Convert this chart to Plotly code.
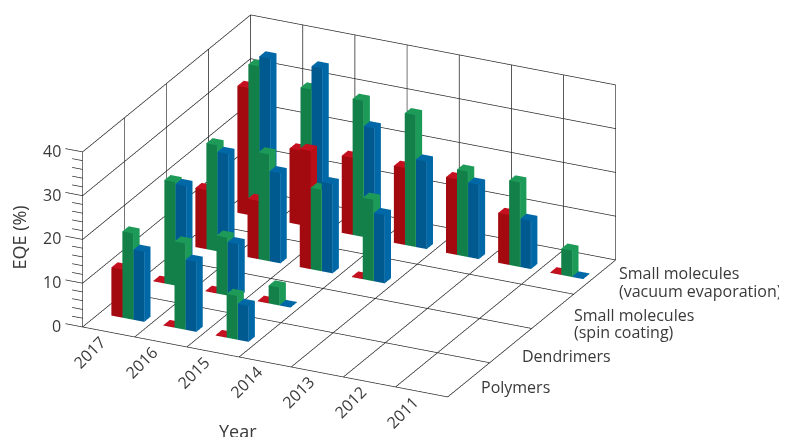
import plotly.graph_objects as go

years = [2017, 2016, 2015, 2014, 2013, 2012, 2011]
materials = [["Polymers"], ["Dendrimers"], ["Small molecules", "(spin coating)"], ["Small molecules", "(vacuum evaporation)"]]
eqe_ticks = [0, 10, 20, 30, 40]
minor_ticks = [v for v in range(0, 42, 2)]

polymers_red = [11, 0, 0, None, None, None, None]
polymers_green = [19.7, 19.7, 10, None, None, None, None]
polymers_blue = [16, 16, 8.2, None, None, None, None]
dendrimers_red = [0, 0, 0, None, None, None, None]
dendrimers_green = [23.6, 13.2, 4.1, None, None, None, None]
dendrimers_blue = [23.2, 12.2, 0, None, None, None, None]
spin_red = [13.5, 13.3, 27, 0, None, None, None]
spin_green = [24.2, 24.4, 18.6, 18.6, None, None, None]
spin_blue = [22.7, 20.6, 20.4, 15.6, None, None, None]
vacuum_red = [29, 17, 17.6, 17.6, 17.3, 11.4, 0]
vacuum_green = [34.4, 31.4, 31.1, 30.1, 19.5, 19.3, 6]
vacuum_blue = [36.7, 36.7, 25.3, 20, 17, 11, 0]

BW, BD, A0, B0 = 0.21, 0.15, 0.23, 0.40
FLAT = 0.12

def mesh(rows, slot, front, side, top):
    xs, ys, zs, ii, jj, kk, fc = [], [], [], [], [], [], []
    for r, row in enumerate(rows):
        for c, v in enumerate(row):
            if v is None:
                continue
            h = max(v, FLAT)
            x0 = c + A0 + slot * BW
            x1 = x0 + BW
            y0 = r + B0
            y1 = y0 + BD
            n = len(xs)
            xs += [x0, x1, x1, x0, x0, x1, x1, x0]
            ys += [y0, y0, y1, y1, y0, y0, y1, y1]
            zs += [0, 0, 0, 0, h, h, h, h]
            for tri, col in [((0, 1, 5), front), ((0, 5, 4), front),
                             ((1, 2, 6), side), ((1, 6, 5), side),
                             ((4, 5, 6), top), ((4, 6, 7), top)]:
                ii.append(n + tri[0]); jj.append(n + tri[1]); kk.append(n + tri[2]); fc.append(col)
    return go.Mesh3d(x=xs, y=ys, z=zs, i=ii, j=jj, k=kk, facecolor=fc, flatshading=True,
                     lighting=dict(ambient=1, diffuse=0, specular=0, roughness=1, fresnel=0),
                     hoverinfo="skip", showscale=False)

def edges(rows, slot, colour):
    ex, ey, ez = [], [], []
    for r, row in enumerate(rows):
        for c, v in enumerate(row):
            if not v:
                continue
            x1 = c + A0 + (slot + 1) * BW + 0.002
            y0 = r + B0 - 0.002
            ex += [x1, x1, None]; ey += [y0, y0, None]; ez += [0, v, None]
    return go.Scatter3d(x=ex, y=ey, z=ez, mode="lines", line=dict(color=colour, width=1), hoverinfo="skip", showlegend=False)

red_rows = [polymers_red, dendrimers_red, spin_red, vacuum_red]
green_rows = [polymers_green, dendrimers_green, spin_green, vacuum_green]
blue_rows = [polymers_blue, dendrimers_blue, spin_blue, vacuum_blue]

fig = go.Figure()
fig.add_trace(mesh(red_rows, 0, "#A30A10", "#B91018", "#C5101F"))
fig.add_trace(mesh(green_rows, 1, "#128048", "#1C9A58", "#1E9A58"))
fig.add_trace(mesh(blue_rows, 2, "#00598F", "#0068A6", "#0068A6"))
fig.add_trace(edges(green_rows, 1, "#3FA873"))
fig.add_trace(edges(blue_rows, 2, "#3F8FBF"))

NX, NY, ZM = len(years), len(materials), eqe_ticks[-1]
lx, ly, lz = [], [], []
def seg(a, b):
    lx.extend([a[0], b[0], None]); ly.extend([a[1], b[1], None]); lz.extend([a[2], b[2], None])
for i in range(NX + 1):
    seg((i, 0, 0), (i, NY, 0))
    seg((i, NY, 0), (i, NY, ZM))
for j in range(NY + 1):
    seg((0, j, 0), (NX, j, 0))
    seg((0, j, 0), (0, j, ZM))
for z in eqe_ticks[1:]:
    seg((0, 0, z), (0, NY, z))
    seg((0, NY, z), (NX, NY, z))
for z in minor_ticks:
    seg((-0.33 if z in eqe_ticks else -0.2, 0, z), (0, 0, z))
fig.add_trace(go.Scatter3d(x=lx, y=ly, z=lz, mode="lines", line=dict(color="#222222", width=1.4), hoverinfo="skip", showlegend=False))

TXT = dict(family="Open Sans", size=16, color="#3a3a3a")
TITLE = dict(family="Open Sans", size=18, color="#3a3a3a")
ann = []
for i, y in enumerate(years):
    ann.append(dict(x=i + 0.5, y=0, z=0, text=str(y), textangle=-45, showarrow=False, xshift=-19, yshift=-20, font=TXT))
for v in eqe_ticks:
    ann.append(dict(x=0, y=0, z=v, text=str(v), showarrow=False, xanchor="right", xshift=-20, yshift=1, font=TXT))
label_shift = [(10, -7), (9, -10), (19, -12), (22, -5)]
LINE = 17.3
for j, lines in enumerate(materials):
    for n, line in enumerate(lines):
        dy = (len(lines) - 1) / 2 * LINE - n * LINE
        ann.append(dict(x=NX, y=j + 0.5, z=0, text=line, showarrow=False, xanchor="left", align="left",
                        xshift=label_shift[j][0], yshift=label_shift[j][1] + dy, font=TXT))

RX, RY, RZ = [-0.4, 7.05], [-0.05, 4.05], [-0.1, 40.2]
K = 1.857
ASX, ASY, ASZ = K * 1.0 / 7, K * 0.949 / 4, K * 0.4697 / 40
E = (0.4007, -0.8263, 0.3954)
L = 2.0
C = (0.271, 0.086, -0.0947)
fig.update_layout(
    width=787, height=437, margin=dict(l=0, r=0, t=0, b=0), paper_bgcolor="white", showlegend=False,
    scene=dict(
        domain=dict(x=[0, 1], y=[0, 1]),
        xaxis=dict(visible=False, range=RX), yaxis=dict(visible=False, range=RY), zaxis=dict(visible=False, range=RZ),
        aspectmode="manual",
        aspectratio=dict(x=ASX * (RX[1] - RX[0]), y=ASY * (RY[1] - RY[0]), z=ASZ * (RZ[1] - RZ[0])),
        camera=dict(projection=dict(type="orthographic"), up=dict(x=0, y=0, z=1),
                    center=dict(x=C[0], y=C[1], z=C[2]),
                    eye=dict(x=C[0] + E[0] * L, y=C[1] + E[1] * L, z=C[2] + E[2] * L)),
        annotations=ann,
    ),
    annotations=[
        dict(text="EQE (%)", xref="paper", yref="paper", x=10 / 787, y=1 - 229.5 / 437, xanchor="center", yanchor="middle", textangle=-90, showarrow=False, font=TITLE),
        dict(text="Year", xref="paper", yref="paper", x=230 / 787, y=1 - 423 / 437, xanchor="center", yanchor="middle", showarrow=False, font=TITLE),
    ],
)
fig.write_html("out.html")
